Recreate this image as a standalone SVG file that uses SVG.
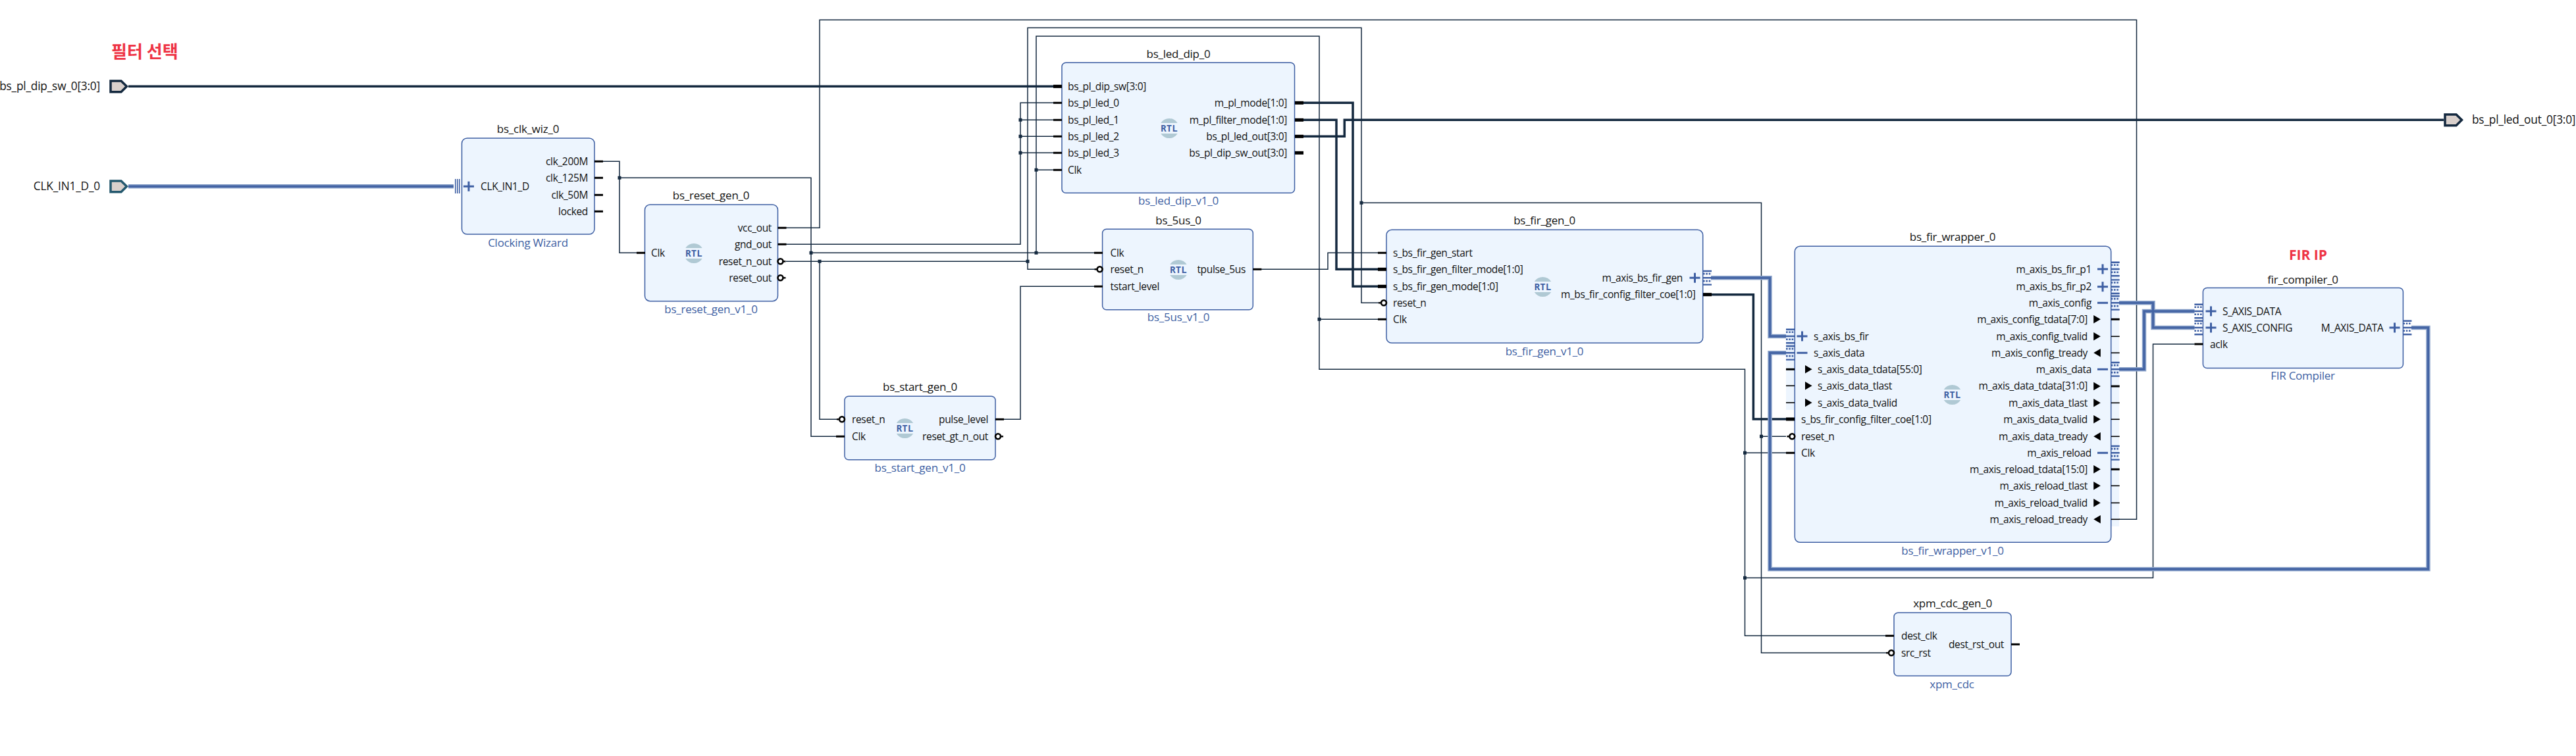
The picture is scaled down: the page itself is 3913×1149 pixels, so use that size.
<svg xmlns="http://www.w3.org/2000/svg" width="3913" height="1149" viewBox="0 0 3913 1149">
<style>
text{font-family:"Open Sans","Noto Sans","Liberation Sans",sans-serif;fill:#111}
.t{font-size:17px;letter-spacing:-.25px;text-anchor:middle}
.s{font-size:17px;letter-spacing:-.25px;text-anchor:middle;fill:#3e5fa3}
.p{font-size:15.5px;letter-spacing:-.35px}
.x{font-size:17.300px;letter-spacing:-.2px}
.e{text-anchor:end}
.r{font-size:14px;font-weight:700;text-anchor:middle;fill:#3e5fa3;font-family:"DejaVu Sans Mono","Liberation Mono",monospace}
.b{fill:#edf5fe;stroke:#3e5fa3;stroke-width:1.5}
.strip{fill:#edf5fe}
.w{fill:none;stroke:#14293f;stroke-width:1.5}
.k{fill:none;stroke:#14293f;stroke-width:3.5}
.bo{fill:none;stroke:#8fa6cc;stroke-width:6.5}
.bi{fill:none;stroke:#4464a4;stroke-width:3.5}
.d{fill:#14293f}
.st{fill:#000}
.gl{fill:none;stroke:#3e5fa3;stroke-width:3}
.bub{fill:#fff;stroke:#000;stroke-width:2.6}
.ic{fill:#b0c9d4}
.port{fill:#d9d0cc;stroke-width:3.5}
.red{fill:#ee3344;font-weight:700}
</style>
<defs>
<g id="rtl"><path class="ic" d="M-12.7-8A15 15 0 0 1 12.7-8ZM-12.7 8A15 15 0 0 0 12.7 8Z"/></g>
<rect id="sA" class="st" x="0" y="-1.5" width="13" height="3"/>
<rect id="sB" class="st" x="0" y="-2.5" width="13" height="5"/>
<rect id="sC" class="st" x="0" y="-0.8" width="13" height="1.6"/>
<path id="plus" class="gl" d="M-8 0H8M0-7.5V7.5"/>
<path id="minus" class="gl" d="M-8 0H8"/>
<path id="tr" d="M-5.3-6.3L5.3 0L-5.3 6.3Z" fill="#000"/>
<path id="tl" d="M5.3-6.3L-5.3 0L5.3 6.3Z" fill="#000"/>
<g id="bif"><path fill="#3e5fa3" d="M0-11.5h13v2.4H0zM0-1.2h13v2.4H0zM0 9.1h13v2.4H0z"/><path d="M0-6.2h13M0 4.8h13" stroke="#3e5fa3" stroke-width="2.6" stroke-dasharray="2.6 1.7" fill="none"/></g>
<g id="bl"><circle class="bub" cx="-4" cy="0" r="4"/><rect class="st" x="-12" y="-1.2" width="5" height="2.4"/></g>
<g id="br"><circle class="bub" cx="4" cy="0" r="4"/><rect class="st" x="7" y="-1.2" width="5" height="2.4"/></g>
</defs>
<g id="connectors">
<path class="w" d="M916 245.3H941V384.3H968M941 270.3H1232V663.3H1270M1232 384.3H1663M1194 346.3H1245V30.3H3245.5V789.3H3219M1194 371.3H1550V156.3H1600M1550 182.3H1600M1550 207.3H1600M1550 232.3H1600M1194 397.3H1561M1245 397.3V637.3H1271M1561 409.3V42.3H2068V460.3H2095M1561 397.3V409.3H1664M2068 308.3H2675.5V992.3H2866M2675.5 663.3H2713M1574 384.3V55H2004V561.3H2650.5V966.3H2866M1574 258.3H1600M2004 485.3H2093M2650.5 688.3H2713M2650.5 878.3H3270.5V523H3333.5M1916 409.3H2017V384.3H2093M1524 637.3H1550V435.3H1663"/>
<path class="k" d="M195 131.3H1600M1980 156.3H2055V435.3H2093M1980 182.3H2030V409.3H2093M1980 207.3H2042.3V182.3H3712M2599 447.7H2663.4V637H2713"/>
<path class="bo" d="M195 283.3H689M2599 422.3H2688.5V511H2713M2713 536.3H2688.5V865H3688.4V498H3663M3219 460.3H3270.5V498H3333.5M3219 561.3H3257V473H3333.5"/>
<path class="bi" d="M195 283.3H689M2599 422.3H2688.5V511H2713M2713 536.3H2688.5V865H3688.4V498H3663M3219 460.3H3270.5V498H3333.5M3219 561.3H3257V473H3333.5"/>
<path class="d" d="M938.5 267.8h5v5h-5zM1229.5 381.8h5v5h-5zM1242.5 394.8h5v5h-5zM1558.5 394.8h5v5h-5zM1571.5 381.8h5v5h-5zM1571.5 255.8h5v5h-5zM1547.5 179.8h5v5h-5zM1547.5 204.8h5v5h-5zM1547.5 229.8h5v5h-5zM2065.5 305.8h5v5h-5zM2001.5 482.8h5v5h-5zM2673 660.8h5v5h-5zM2648 685.8h5v5h-5zM2648 875.8h5v5h-5z"/>
</g>
<g id="annotations">
<text x="169" y="88" class="red" style="font-family:'Noto Sans CJK KR','Noto Sans',sans-serif;font-size:26px">필터 선택</text>
<text x="3506" y="395" class="red" text-anchor="middle" font-size="21">FIR IP</text>
</g>
<g id="bs_pl_dip_sw_0">
<path class="port" stroke="#14293f" d="M168 123H184L192.500 131.300L184 139.700H168Z"/>
<text class="x e" x="152" y="137">bs_pl_dip_sw_0[3:0]</text>
</g>
<g id="CLK_IN1_D_0">
<path class="port" stroke="#24586e" d="M168 275H184L192.500 283.300L184 291.700H168Z"/>
<text class="x e" x="152" y="289">CLK_IN1_D_0</text>
</g>
<g id="bs_pl_led_out_0">
<path class="port" stroke="#14293f" d="M3714 174H3731L3739.500 182.300L3731 190.700H3714Z"/>
<text class="x" x="3755" y="188">bs_pl_led_out_0[3:0]</text>
</g>
<g id="bs_clk_wiz_0">
<rect class="b" x="701.500" y="210" width="201.500" height="146" rx="8"/>
<text class="t" x="802" y="202">bs_clk_wiz_0</text>
<text class="s" x="802" y="375">Clocking Wizard</text>
<path fill="#3e5fa3" d="M691 272h1.500v22H691zM694 272h1.500v22H694zM697 272h1.500v22H697z"/>
<use href="#plus" x="712" y="283.300"/>
<text class="p" x="730" y="289">CLK_IN1_D</text>
<use href="#sA" x="903" y="245.300"/><use href="#sA" x="903" y="270.300"/><use href="#sA" x="903" y="296.300"/><use href="#sA" x="903" y="321.300"/>
<text class="p e" x="893" y="251">clk_200M</text>
<text class="p e" x="893" y="276">clk_125M</text>
<text class="p e" x="893" y="302">clk_50M</text>
<text class="p e" x="893" y="327">locked</text>
</g>
<g id="bs_reset_gen_0">
<rect class="b" x="979.500" y="311" width="202" height="146.700" rx="8"/>
<text class="t" x="1080" y="303">bs_reset_gen_0</text>
<text class="s" x="1080" y="476">bs_reset_gen_v1_0</text>
<use href="#sA" x="967" y="384.300"/>
<text class="p" x="989" y="390">Clk</text>
<use href="#rtl" x="1054" y="385"/><text class="r" x="1054" y="390">RTL</text>
<use href="#sA" x="1181.500" y="346.300"/><use href="#sA" x="1181.500" y="371.300"/>
<use href="#br" x="1181.500" y="397.300"/><use href="#br" x="1181.500" y="422.300"/>
<text class="p e" x="1172" y="352">vcc_out</text>
<text class="p e" x="1172" y="377">gnd_out</text>
<text class="p e" x="1172" y="403">reset_n_out</text>
<text class="p e" x="1172" y="428">reset_out</text>
</g>
<g id="bs_start_gen_0">
<rect class="b" x="1283" y="602.300" width="229" height="96.400" rx="6"/>
<text class="t" x="1397.500" y="594">bs_start_gen_0</text>
<text class="s" x="1397.500" y="717">bs_start_gen_v1_0</text>
<use href="#bl" x="1283" y="637.300"/><use href="#sA" x="1270" y="663.300"/>
<text class="p" x="1294" y="643">reset_n</text>
<text class="p" x="1294" y="669">Clk</text>
<use href="#rtl" x="1374.500" y="651"/><text class="r" x="1374.500" y="656">RTL</text>
<use href="#sA" x="1512" y="637.300"/><use href="#br" x="1512" y="663.300"/>
<text class="p e" x="1501" y="643">pulse_level</text>
<text class="p e" x="1501" y="669">reset_gt_n_out</text>
</g>
<g id="bs_led_dip_0">
<rect class="b" x="1613" y="95.300" width="353.500" height="198" rx="6"/>
<text class="t" x="1790" y="88">bs_led_dip_0</text>
<text class="s" x="1790" y="311">bs_led_dip_v1_0</text>
<use href="#sB" x="1600" y="131.300"/><use href="#sA" x="1600" y="156.300"/><use href="#sA" x="1600" y="182.300"/><use href="#sA" x="1600" y="207.300"/><use href="#sA" x="1600" y="232.300"/><use href="#sA" x="1600" y="258.300"/>
<text class="p" x="1622" y="137">bs_pl_dip_sw[3:0]</text>
<text class="p" x="1622" y="162">bs_pl_led_0</text>
<text class="p" x="1622" y="188">bs_pl_led_1</text>
<text class="p" x="1622" y="213">bs_pl_led_2</text>
<text class="p" x="1622" y="238">bs_pl_led_3</text>
<text class="p" x="1622" y="264">Clk</text>
<use href="#rtl" x="1776" y="195"/><text class="r" x="1776" y="200">RTL</text>
<use href="#sB" x="1967" y="156.300"/><use href="#sB" x="1967" y="182.300"/><use href="#sB" x="1967" y="207.300"/><use href="#sB" x="1967" y="232.300"/>
<text class="p e" x="1955" y="162">m_pl_mode[1:0]</text>
<text class="p e" x="1955" y="188">m_pl_filter_mode[1:0]</text>
<text class="p e" x="1955" y="213">bs_pl_led_out[3:0]</text>
<text class="p e" x="1955" y="238">bs_pl_dip_sw_out[3:0]</text>
</g>
<g id="bs_5us_0">
<rect class="b" x="1674.600" y="348.300" width="228.700" height="122.400" rx="6"/>
<text class="t" x="1790" y="341">bs_5us_0</text>
<text class="s" x="1790" y="488">bs_5us_v1_0</text>
<use href="#sA" x="1662" y="384.300"/><use href="#bl" x="1674.600" y="409.300"/><use href="#sA" x="1662" y="435.300"/>
<text class="p" x="1686.500" y="390">Clk</text>
<text class="p" x="1686.500" y="415">reset_n</text>
<text class="p" x="1686.500" y="441">tstart_level</text>
<use href="#rtl" x="1790" y="410"/><text class="r" x="1790" y="415">RTL</text>
<use href="#sA" x="1903.300" y="409.300"/>
<text class="p e" x="1892" y="415">tpulse_5us</text>
</g>
<g id="bs_fir_gen_0">
<rect class="b" x="2106" y="349.300" width="480.700" height="172" rx="8"/>
<text class="t" x="2346" y="341">bs_fir_gen_0</text>
<text class="s" x="2346" y="540">bs_fir_gen_v1_0</text>
<use href="#sA" x="2093" y="384.300"/><use href="#sB" x="2093" y="409.300"/><use href="#sB" x="2093" y="435.300"/><use href="#bl" x="2106" y="460.300"/><use href="#sA" x="2093" y="485.300"/>
<text class="p" x="2116" y="390">s_bs_fir_gen_start</text>
<text class="p" x="2116" y="415">s_bs_fir_gen_filter_mode[1:0]</text>
<text class="p" x="2116" y="441">s_bs_fir_gen_mode[1:0]</text>
<text class="p" x="2116" y="466">reset_n</text>
<text class="p" x="2116" y="491">Clk</text>
<use href="#rtl" x="2343.500" y="436"/><text class="r" x="2343.500" y="441">RTL</text>
<text class="p e" x="2556" y="428">m_axis_bs_fir_gen</text>
<text class="p e" x="2575.500" y="453">m_bs_fir_config_filter_coe[1:0]</text>
<use href="#plus" x="2574.500" y="422.300"/>
<use href="#bif" x="2587" y="422.300"/><use href="#sB" x="2587" y="447.700"/>
</g>
<g id="bs_fir_wrapper_0">
<rect class="strip" x="2713" y="499" width="13.300" height="124"/>
<rect class="strip" x="3207" y="397" width="12" height="403"/>
<rect class="b" x="2726.300" y="374.300" width="480.400" height="450" rx="8"/>
<text class="t" x="2966" y="366">bs_fir_wrapper_0</text>
<text class="s" x="2966" y="843">bs_fir_wrapper_v1_0</text>
<use href="#bif" x="2713" y="511"/><use href="#bif" x="2713" y="536.300"/>
<use href="#sA" x="2713" y="561.300"/><use href="#sC" x="2713" y="586.300"/><use href="#sC" x="2713" y="612"/><use href="#sB" x="2713" y="637"/><use href="#bl" x="2726.300" y="663.300"/><use href="#sA" x="2713" y="688.300"/>
<use href="#plus" x="2737.500" y="511"/><use href="#minus" x="2737.500" y="536.300"/>
<use href="#tr" x="2747.300" y="561.300"/><use href="#tr" x="2747.300" y="586.300"/><use href="#tr" x="2747.300" y="612"/>
<text class="p" x="2755" y="517">s_axis_bs_fir</text>
<text class="p" x="2755" y="542">s_axis_data</text>
<text class="p" x="2761" y="567">s_axis_data_tdata[55:0]</text>
<text class="p" x="2761" y="592">s_axis_data_tlast</text>
<text class="p" x="2761" y="618">s_axis_data_tvalid</text>
<text class="p" x="2736" y="643">s_bs_fir_config_filter_coe[1:0]</text>
<text class="p" x="2736" y="669">reset_n</text>
<text class="p" x="2736" y="694">Clk</text>
<use href="#rtl" x="2965.500" y="600"/><text class="r" x="2965.500" y="605">RTL</text>
<use href="#plus" x="3194" y="409"/><use href="#plus" x="3194" y="435.700"/><use href="#minus" x="3194" y="460.300"/><use href="#minus" x="3194" y="561.300"/><use href="#minus" x="3194" y="688.300"/>
<use href="#bif" x="3206.700" y="409"/><use href="#bif" x="3206.700" y="435.700"/><use href="#bif" x="3206.700" y="460.300"/><use href="#bif" x="3206.700" y="561.300"/><use href="#bif" x="3206.700" y="688.300"/>
<use href="#tr" x="3185.500" y="485.300"/><use href="#tr" x="3185.500" y="511.300"/><use href="#tl" x="3185.500" y="536.300"/><use href="#tr" x="3185.500" y="587"/><use href="#tr" x="3185.500" y="612.300"/><use href="#tr" x="3185.500" y="637.300"/><use href="#tl" x="3185.500" y="663.300"/><use href="#tr" x="3185.500" y="713.300"/><use href="#tr" x="3185.500" y="738.300"/><use href="#tr" x="3185.500" y="764.300"/><use href="#tl" x="3185.500" y="789.300"/>
<use href="#sA" x="3206.700" y="485.300"/><use href="#sC" x="3206.700" y="511.300"/><use href="#sC" x="3206.700" y="536.300"/><use href="#sA" x="3206.700" y="587"/><use href="#sC" x="3206.700" y="612.300"/><use href="#sC" x="3206.700" y="637.300"/><use href="#sC" x="3206.700" y="663.300"/><use href="#sA" x="3206.700" y="713.300"/><use href="#sC" x="3206.700" y="738.300"/><use href="#sC" x="3206.700" y="764.300"/><use href="#sC" x="3206.700" y="789.300"/>
<text class="p e" x="3177" y="415">m_axis_bs_fir_p1</text>
<text class="p e" x="3177" y="441">m_axis_bs_fir_p2</text>
<text class="p e" x="3177" y="466">m_axis_config</text>
<text class="p e" x="3171" y="491">m_axis_config_tdata[7:0]</text>
<text class="p e" x="3171" y="517">m_axis_config_tvalid</text>
<text class="p e" x="3171" y="542">m_axis_config_tready</text>
<text class="p e" x="3177" y="567">m_axis_data</text>
<text class="p e" x="3171" y="592">m_axis_data_tdata[31:0]</text>
<text class="p e" x="3171" y="618">m_axis_data_tlast</text>
<text class="p e" x="3171" y="643">m_axis_data_tvalid</text>
<text class="p e" x="3171" y="669">m_axis_data_tready</text>
<text class="p e" x="3177" y="694">m_axis_reload</text>
<text class="p e" x="3171" y="719">m_axis_reload_tdata[15:0]</text>
<text class="p e" x="3171" y="744">m_axis_reload_tlast</text>
<text class="p e" x="3171" y="770">m_axis_reload_tvalid</text>
<text class="p e" x="3171" y="795">m_axis_reload_tready</text>
</g>
<g id="fir_compiler_0">
<rect class="b" x="3346.400" y="437.500" width="304" height="122" rx="6"/>
<text class="t" x="3498" y="431">fir_compiler_0</text>
<text class="s" x="3498" y="577">FIR Compiler</text>
<use href="#bif" x="3333.400" y="473"/><use href="#bif" x="3333.400" y="498"/><use href="#sA" x="3333.400" y="523"/>
<use href="#plus" x="3358.500" y="473"/><use href="#plus" x="3358.500" y="498"/>
<text class="p" x="3376" y="479">S_AXIS_DATA</text>
<text class="p" x="3376" y="504">S_AXIS_CONFIG</text>
<text class="p" x="3357" y="529">aclk</text>
<text class="p e" x="3620.500" y="504">M_AXIS_DATA</text>
<use href="#plus" x="3637.500" y="498"/><use href="#bif" x="3650.400" y="498"/>
</g>
<g id="xpm_cdc_gen_0">
<rect class="b" x="2877" y="931.300" width="178" height="96" rx="6"/>
<text class="t" x="2966" y="923">xpm_cdc_gen_0</text>
<text class="s" x="2965" y="1046">xpm_cdc</text>
<use href="#sA" x="2864" y="966.300"/><use href="#bl" x="2877" y="992.300"/>
<text class="p" x="2888" y="972">dest_clk</text>
<text class="p" x="2888" y="998">src_rst</text>
<text class="p e" x="3044" y="985">dest_rst_out</text>
<use href="#sA" x="3055" y="979.300"/>
</g>
</svg>
